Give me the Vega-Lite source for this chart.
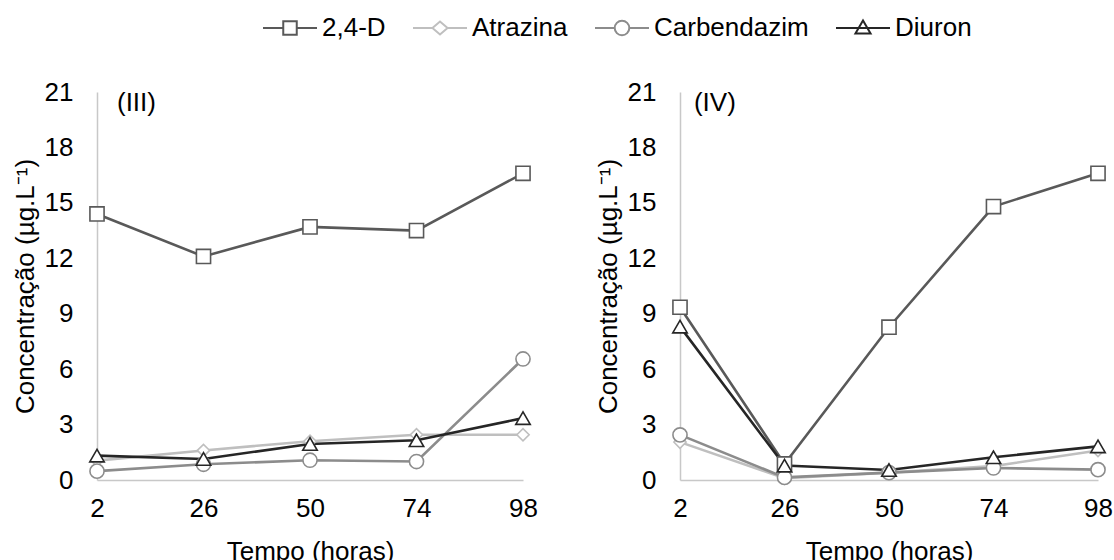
{
  "$schema": "https://vega.github.io/schema/vega-lite/v6.json",
  "background": "white",
  "padding": {"left": 12, "top": 0, "right": 0, "bottom": 0},
  "config": {
    "view": {"stroke": null},
    "font": "Liberation Sans",
    "axis": {
      "labelFont": "Liberation Sans", "labelFontSize": 26, "labelColor": "#000000", "labelFlush": false,
      "titleFont": "Liberation Sans", "titleFontSize": 26, "titleFontWeight": "normal", "titleColor": "#000000",
      "domainColor": "#c8c8c8", "domainWidth": 1.5, "ticks": false, "grid": false
    },
    "legend": {
      "labelFont": "Liberation Sans", "labelFontSize": 26, "labelColor": "#000000",
      "orient": "none", "legendX": 165, "legendY": -92, "direction": "horizontal",
      "symbolSize": 2916, "symbolStrokeWidth": 2, "symbolFillColor": "white", "symbolOpacity": 1,
      "labelOffset": 4, "columnPadding": 23
    }
  },
  "data": {
    "values": [
      {"painel": "III", "hora": 2, "serie": "2,4-D", "valor": 14.4},
      {"painel": "III", "hora": 26, "serie": "2,4-D", "valor": 12.1},
      {"painel": "III", "hora": 50, "serie": "2,4-D", "valor": 13.7},
      {"painel": "III", "hora": 74, "serie": "2,4-D", "valor": 13.5},
      {"painel": "III", "hora": 98, "serie": "2,4-D", "valor": 16.6},
      {"painel": "III", "hora": 2, "serie": "Atrazina", "valor": 1.05},
      {"painel": "III", "hora": 26, "serie": "Atrazina", "valor": 1.6},
      {"painel": "III", "hora": 50, "serie": "Atrazina", "valor": 2.1},
      {"painel": "III", "hora": 74, "serie": "Atrazina", "valor": 2.45},
      {"painel": "III", "hora": 98, "serie": "Atrazina", "valor": 2.45},
      {"painel": "III", "hora": 2, "serie": "Carbendazim", "valor": 0.48},
      {"painel": "III", "hora": 26, "serie": "Carbendazim", "valor": 0.85},
      {"painel": "III", "hora": 50, "serie": "Carbendazim", "valor": 1.07},
      {"painel": "III", "hora": 74, "serie": "Carbendazim", "valor": 1.0},
      {"painel": "III", "hora": 98, "serie": "Carbendazim", "valor": 6.55},
      {"painel": "III", "hora": 2, "serie": "Diuron", "valor": 1.32},
      {"painel": "III", "hora": 26, "serie": "Diuron", "valor": 1.14},
      {"painel": "III", "hora": 50, "serie": "Diuron", "valor": 1.95},
      {"painel": "III", "hora": 74, "serie": "Diuron", "valor": 2.15},
      {"painel": "III", "hora": 98, "serie": "Diuron", "valor": 3.35},
      {"painel": "IV", "hora": 2, "serie": "2,4-D", "valor": 9.35},
      {"painel": "IV", "hora": 26, "serie": "2,4-D", "valor": 0.87},
      {"painel": "IV", "hora": 50, "serie": "2,4-D", "valor": 8.27},
      {"painel": "IV", "hora": 74, "serie": "2,4-D", "valor": 14.8},
      {"painel": "IV", "hora": 98, "serie": "2,4-D", "valor": 16.6},
      {"painel": "IV", "hora": 2, "serie": "Atrazina", "valor": 2.05},
      {"painel": "IV", "hora": 26, "serie": "Atrazina", "valor": 0.1},
      {"painel": "IV", "hora": 50, "serie": "Atrazina", "valor": 0.4},
      {"painel": "IV", "hora": 74, "serie": "Atrazina", "valor": 0.75},
      {"painel": "IV", "hora": 98, "serie": "Atrazina", "valor": 1.6},
      {"painel": "IV", "hora": 2, "serie": "Carbendazim", "valor": 2.44},
      {"painel": "IV", "hora": 26, "serie": "Carbendazim", "valor": 0.14},
      {"painel": "IV", "hora": 50, "serie": "Carbendazim", "valor": 0.4},
      {"painel": "IV", "hora": 74, "serie": "Carbendazim", "valor": 0.65},
      {"painel": "IV", "hora": 98, "serie": "Carbendazim", "valor": 0.56},
      {"painel": "IV", "hora": 2, "serie": "Diuron", "valor": 8.3},
      {"painel": "IV", "hora": 26, "serie": "Diuron", "valor": 0.78},
      {"painel": "IV", "hora": 50, "serie": "Diuron", "valor": 0.54},
      {"painel": "IV", "hora": 74, "serie": "Diuron", "valor": 1.23},
      {"painel": "IV", "hora": 98, "serie": "Diuron", "valor": 1.82}
    ]
  },
  "spacing": 57,
  "hconcat": [
    {
      "width": 426,
      "height": 388,
      "transform": [{"filter": "datum.painel === 'III'"}],
      "layer": [
        {
          "mark": {"type": "line", "strokeWidth": 2.6},
          "encoding": {
            "x": {"field": "hora", "type": "quantitative", "scale": {"domain": [2, 98], "nice": false, "zero": false},
                  "axis": {"values": [2, 26, 50, 74, 98], "title": "Tempo (horas)", "labelPadding": 15, "titlePadding": 17}},
            "y": {"field": "valor", "type": "quantitative", "scale": {"domain": [0, 21], "nice": false},
                  "axis": {"values": [0, 3, 6, 9, 12, 15, 18, 21], "title": "Concentração (µg.L⁻¹)", "labelPadding": 24, "titlePadding": 6}},
            "stroke": {"field": "serie", "type": "nominal",
                       "scale": {"domain": ["2,4-D", "Atrazina", "Carbendazim", "Diuron"], "range": ["#595959", "#bfbfbf", "#8c8c8c", "#262626"]},
                       "legend": {"title": null}},
            "detail": {"field": "serie"}
          }
        },
        {
          "transform": [{"filter": "datum.serie === '2,4-D'"}],
          "mark": {"type": "point", "shape": "square", "filled": true, "fill": "white", "strokeWidth": 1.6, "size": 200, "opacity": 1},
          "encoding": {"x": {"field": "hora", "type": "quantitative"}, "y": {"field": "valor", "type": "quantitative"},
                       "stroke": {"field": "serie", "type": "nominal", "legend": {"title": null}}}
        },
        {
          "transform": [{"filter": "datum.serie === 'Atrazina'"}],
          "mark": {"type": "point", "shape": "diamond", "filled": true, "fill": "white", "strokeWidth": 1.6, "size": 150, "opacity": 1},
          "encoding": {"x": {"field": "hora", "type": "quantitative"}, "y": {"field": "valor", "type": "quantitative"},
                       "stroke": {"field": "serie", "type": "nominal", "legend": {"title": null}}}
        },
        {
          "transform": [{"filter": "datum.serie === 'Carbendazim'"}],
          "mark": {"type": "point", "shape": "circle", "filled": true, "fill": "white", "strokeWidth": 1.6, "size": 200, "opacity": 1},
          "encoding": {"x": {"field": "hora", "type": "quantitative"}, "y": {"field": "valor", "type": "quantitative"},
                       "stroke": {"field": "serie", "type": "nominal", "legend": {"title": null}}}
        },
        {
          "transform": [{"filter": "datum.serie === 'Diuron'"}],
          "mark": {"type": "point", "shape": "triangle-up", "filled": true, "fill": "white", "strokeWidth": 1.6, "size": 210, "opacity": 1},
          "encoding": {"x": {"field": "hora", "type": "quantitative"}, "y": {"field": "valor", "type": "quantitative"},
                       "stroke": {"field": "serie", "type": "nominal", "legend": {"title": null}}}
        },
        {
          "mark": {"type": "point", "filled": true, "fill": "white", "strokeWidth": 0, "size": 0},
          "encoding": {
            "x": {"field": "hora", "type": "quantitative"},
            "y": {"field": "valor", "type": "quantitative"},
            "stroke": {"field": "serie", "type": "nominal", "legend": {"title": null}},
            "shape": {"field": "serie", "type": "nominal",
                      "scale": {"domain": ["2,4-D", "Atrazina", "Carbendazim", "Diuron"],
                                "range": ["M-1,0H-0.25M0.25,0H1M-0.25,-0.25H0.25V0.25H-0.25Z",
                                          "M-1,0H-0.28M0.28,0H1M-0.28,0L0,-0.24L0.28,0L0,0.24Z",
                                          "M-1,0H-0.27M0.27,0H1M-0.27,0A0.27,0.27,0,1,1,0.27,0A0.27,0.27,0,1,1,-0.27,0Z",
                                          "M-1,0H1M-0.28,0.2L0,-0.28L0.28,0.2Z"]},
                      "legend": {"title": null}}
          }
        },
        {
          "data": {"values": [{"rotulo": "(III)"}]},
          "mark": {"type": "text", "fontSize": 26, "align": "left", "baseline": "middle", "color": "#000000"},
          "encoding": {
            "x": {"datum": 6.5, "type": "quantitative"},
            "y": {"datum": 20.4, "type": "quantitative"},
            "text": {"field": "rotulo"}
          }
        }
      ]
    },
    {
      "width": 418,
      "height": 388,
      "transform": [{"filter": "datum.painel === 'IV'"}],
      "layer": [
        {
          "mark": {"type": "line", "strokeWidth": 2.6},
          "encoding": {
            "x": {"field": "hora", "type": "quantitative", "scale": {"domain": [2, 98], "nice": false, "zero": false},
                  "axis": {"values": [2, 26, 50, 74, 98], "title": "Tempo (horas)", "labelPadding": 15, "titlePadding": 17}},
            "y": {"field": "valor", "type": "quantitative", "scale": {"domain": [0, 21], "nice": false},
                  "axis": {"values": [0, 3, 6, 9, 12, 15, 18, 21], "title": "Concentração (µg.L⁻¹)", "labelPadding": 24, "titlePadding": 6}},
            "stroke": {"field": "serie", "type": "nominal", "legend": {"title": null}},
            "detail": {"field": "serie"}
          }
        },
        {
          "transform": [{"filter": "datum.serie === '2,4-D'"}],
          "mark": {"type": "point", "shape": "square", "filled": true, "fill": "white", "strokeWidth": 1.6, "size": 200, "opacity": 1},
          "encoding": {"x": {"field": "hora", "type": "quantitative"}, "y": {"field": "valor", "type": "quantitative"},
                       "stroke": {"field": "serie", "type": "nominal", "legend": {"title": null}}}
        },
        {
          "transform": [{"filter": "datum.serie === 'Atrazina'"}],
          "mark": {"type": "point", "shape": "diamond", "filled": true, "fill": "white", "strokeWidth": 1.6, "size": 150, "opacity": 1},
          "encoding": {"x": {"field": "hora", "type": "quantitative"}, "y": {"field": "valor", "type": "quantitative"},
                       "stroke": {"field": "serie", "type": "nominal", "legend": {"title": null}}}
        },
        {
          "transform": [{"filter": "datum.serie === 'Carbendazim'"}],
          "mark": {"type": "point", "shape": "circle", "filled": true, "fill": "white", "strokeWidth": 1.6, "size": 200, "opacity": 1},
          "encoding": {"x": {"field": "hora", "type": "quantitative"}, "y": {"field": "valor", "type": "quantitative"},
                       "stroke": {"field": "serie", "type": "nominal", "legend": {"title": null}}}
        },
        {
          "transform": [{"filter": "datum.serie === 'Diuron'"}],
          "mark": {"type": "point", "shape": "triangle-up", "filled": true, "fill": "white", "strokeWidth": 1.6, "size": 210, "opacity": 1},
          "encoding": {"x": {"field": "hora", "type": "quantitative"}, "y": {"field": "valor", "type": "quantitative"},
                       "stroke": {"field": "serie", "type": "nominal", "legend": {"title": null}}}
        },
        {
          "data": {"values": [{"rotulo": "(IV)"}]},
          "mark": {"type": "text", "fontSize": 26, "align": "left", "baseline": "middle", "color": "#000000"},
          "encoding": {
            "x": {"datum": 5.2, "type": "quantitative"},
            "y": {"datum": 20.4, "type": "quantitative"},
            "text": {"field": "rotulo"}
          }
        }
      ]
    }
  ]
}
